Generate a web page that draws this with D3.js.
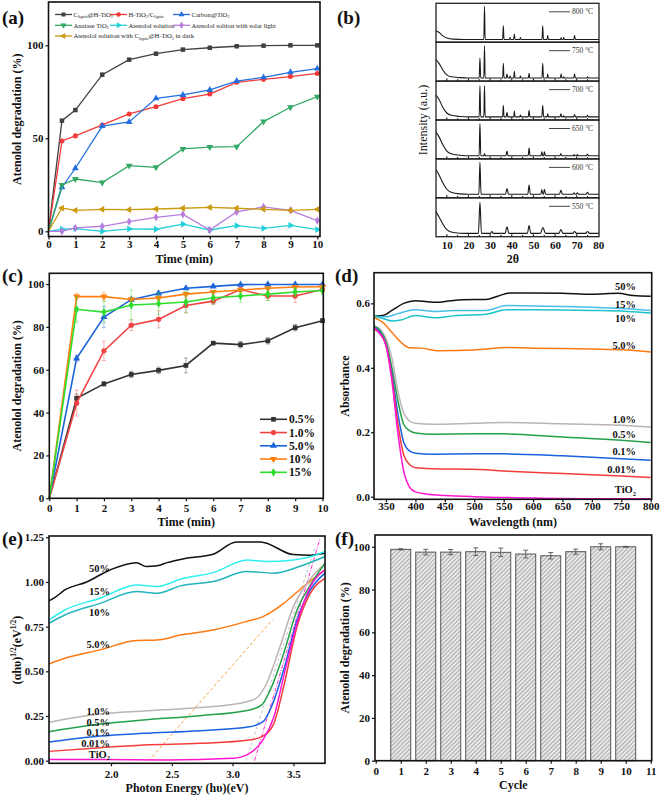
<!DOCTYPE html>
<html>
<head>
<meta charset="utf-8">
<script src="https://cdn.jsdelivr.net/npm/d3@7"></script>
<style>
  body { margin: 0; background: #fff; }
  text { font-family: "Liberation Serif", "Times New Roman", serif; }
  .tick text { font-weight: bold; font-size: 11px; fill: #111; }
  .tick line { stroke: #111; stroke-width: 1.2; }
  .ttl { font-weight: bold; font-size: 12px; fill: #111; }
  .plab { font-weight: bold; font-size: 19px; fill: #111; }
</style>
</head>
<body>
<div id="chart"></div>
<script>
/***********************************************************************/
// (a) degradation over time, 7 systems
const timeA = [0, 0.5, 1, 2, 3, 4, 5, 6, 7, 8, 9, 10];
const aLignin   = [0, 59.5, 65.2, 84.2, 92.3, 95.5, 97.7, 98.7, 99.5, 99.8, 100, 100];
const aHTiO2    = [0, 48.6, 51.3, 57.2, 63.1, 67.0, 71.3, 73.8, 80.1, 81.7, 83.2, 84.9];
const aCarbon   = [0, 23.7, 33.9, 56.6, 58.8, 71.5, 73.3, 76.0, 80.8, 82.8, 85.5, 87.5];
const aAnatase  = [0, 24.9, 28.1, 26.2, 35.3, 34.4, 44.3, 45.3, 45.5, 59.0, 66.7, 72.4];
const aSolution = [0, 1.1, 1.4, 0, 1.3, 1.1, 3.8, 0.7, 3.0, 1.6, 3.2, 0.9];
const aSolar    = [0, 0, 1.8, 2.7, 5.2, 7.5, 9.1, 0.7, 10.4, 13.1, 11.3, 5.7];
const aDark     = [0, 12.5, 11.3, 11.8, 11.6, 12.0, 12.4, 12.9, 12.4, 11.8, 11.3, 11.8];
const aErr      = [0, 1, 1, 1.5, 1, 1, 1.2, 1, 1, 1, 1, 1];

// (b) XRD, one pattern per calcination temperature (levels are fractions of a strip)
const xrdTemps = ['800 °C', '750 °C', '700 °C', '650 °C', '600 °C', '550 °C'];
const xrdBg = [
  [[5, 0.29], [6.5, 0.25], [8, 0.17], [10, 0.11], [13, 0.08], [18, 0.07]],
  [[5, 0.55], [6.5, 0.45], [8, 0.30], [10, 0.16], [12, 0.11], [16, 0.09], [20, 0.08]],
  [[5, 0.64], [6.5, 0.52], [8, 0.34], [10, 0.18], [12, 0.12], [16, 0.09], [20, 0.08]],
  [[5, 0.69], [6.5, 0.56], [8, 0.38], [10, 0.20], [12, 0.13], [16, 0.095], [20, 0.08]],
  [[5, 0.72], [6.5, 0.58], [8, 0.40], [10, 0.22], [12, 0.14], [16, 0.10], [20, 0.09]],
  [[5, 0.64], [6.5, 0.50], [8, 0.34], [10, 0.18], [12, 0.12], [16, 0.09], [20, 0.085]]
];
// [2θ, height above baseline, half width]
const xrdPeaks = [
  [[27.4, 0.85, 0.3], [36.1, 0.36, 0.3], [39.2, 0.05, 0.3], [41.2, 0.14, 0.3], [44, 0.05, 0.3],
   [54.3, 0.36, 0.3], [56.6, 0.1, 0.3], [62.8, 0.04, 0.3], [64, 0.05, 0.3], [69, 0.1, 0.35]],
  [[25.3, 0.52, 0.35], [27.4, 0.82, 0.3], [36.1, 0.38, 0.3], [37.8, 0.1, 0.35], [39.2, 0.05, 0.3],
   [41.2, 0.17, 0.3], [44, 0.05, 0.3], [48, 0.12, 0.35], [54.3, 0.38, 0.35], [56.6, 0.1, 0.3],
   [62.8, 0.1, 0.35], [64, 0.03, 0.3], [69, 0.1, 0.35], [75, 0.03, 0.4]],
  [[25.3, 0.8, 0.35], [27.4, 0.8, 0.3], [36.1, 0.3, 0.3], [37.8, 0.12, 0.4], [41.2, 0.15, 0.3],
   [44, 0.05, 0.3], [48, 0.17, 0.4], [54.3, 0.3, 0.4], [56.6, 0.08, 0.3], [62.7, 0.08, 0.4],
   [64, 0.03, 0.3], [69, 0.06, 0.4], [75, 0.04, 0.4]],
  [[25.3, 0.83, 0.4], [27.4, 0.06, 0.3], [37.8, 0.12, 0.5], [48, 0.2, 0.45], [53.9, 0.1, 0.4],
   [55.1, 0.1, 0.4], [62.7, 0.06, 0.5], [68.8, 0.03, 0.4], [70.3, 0.03, 0.4], [75, 0.04, 0.5]],
  [[25.3, 0.82, 0.5], [37.8, 0.15, 0.7], [48, 0.24, 0.6], [53.9, 0.12, 0.5], [55.1, 0.13, 0.5],
   [62.7, 0.1, 0.7], [68.8, 0.04, 0.5], [70.3, 0.04, 0.5], [75, 0.05, 0.6]],
  [[25.3, 0.8, 0.7], [30.8, 0.05, 0.7], [37.8, 0.17, 0.9], [48, 0.2, 0.8], [54.4, 0.15, 1.2],
   [62.7, 0.1, 0.9], [69, 0.05, 0.9], [75, 0.05, 0.9]]
];
const xrdTicks = [10, 20, 30, 40, 50, 60, 70, 80];

// (c) loading series
const timeC = [0, 1, 2, 3, 4, 5, 6, 7, 8, 9, 10];
const cLabels = ['0.5%', '1.0%', '5.0%', '10%', '15%'];
const c05  = [0, 46.7, 53.4, 57.8, 59.7, 62.0, 72.4, 71.7, 73.5, 79.6, 82.9];
const c10  = [0, 44.4, 68.8, 80.8, 83.5, 90.0, 92.0, 97.4, 94.4, 94.4, 97.4];
const c50  = [0, 65.3, 84.6, 92.7, 95.6, 98.0, 98.9, 99.7, 99.8, 99.8, 99.8];
const c100 = [0, 94.1, 94.1, 92.8, 93.5, 95.3, 96.3, 97.2, 98.0, 98.6, 98.7];
const c150 = [0, 88.2, 86.9, 90.2, 90.8, 91.6, 93.6, 94.4, 95.3, 96.3, 97.0];
const c05Err  = [0, 2, 1, 1.5, 1.5, 3.5, 0.5, 1.5, 1.5, 1.5, 1];
const c10Err  = [0, 6, 4.5, 2.5, 4, 3.5, 1.5, 1, 2, 3, 1];
const c50Err  = [0, 1.5, 5, 1, 0.5, 0.5, 0.5, 0.3, 0.3, 0.3, 0.3];
const c100Err = [0, 1.5, 2, 1, 1, 0.8, 0.8, 0.5, 0.5, 0.4, 0.3];
const c150Err = [0, 6, 5, 7, 5, 5, 3, 3, 3, 2, 2];

// (d) UV-vis absorbance, [wavelength nm, absorbance]
const dLabels = ['50%', '15%', '10%', '5.0%', '1.0%', '0.5%', '0.1%', '0.01%', 'TiO2'];
const d50  = [[330,0.56],[345,0.562],[360,0.578],[380,0.6],[400,0.608],[420,0.605],[435,0.603],[460,0.608],[480,0.611],[520,0.612],[540,0.622],[560,0.632],[600,0.632],[650,0.631],[700,0.628],[745,0.631],[770,0.624],[800,0.622]];
const d15  = [[330,0.56],[350,0.558],[370,0.568],[390,0.578],[400,0.58],[430,0.575],[470,0.578],[520,0.578],[555,0.593],[600,0.592],[700,0.588],[760,0.583],[800,0.578]];
const d10  = [[330,0.56],[345,0.553],[360,0.545],[375,0.548],[400,0.562],[435,0.555],[470,0.562],[520,0.566],[555,0.58],[600,0.58],[700,0.578],[760,0.575],[800,0.57]];
const d5   = [[330,0.556],[345,0.54],[360,0.51],[375,0.48],[390,0.462],[410,0.461],[440,0.453],[500,0.455],[555,0.463],[600,0.461],[700,0.458],[760,0.455],[800,0.449]];
const d1   = [[330,0.53],[340,0.52],[350,0.49],[360,0.43],[370,0.33],[380,0.26],[390,0.235],[400,0.228],[430,0.225],[500,0.228],[550,0.23],[650,0.226],[750,0.222],[800,0.216]];
const d05  = [[330,0.53],[340,0.515],[350,0.48],[360,0.4],[370,0.3],[380,0.225],[390,0.205],[400,0.198],[430,0.194],[500,0.195],[550,0.195],[650,0.185],[750,0.175],[800,0.168]];
const d01  = [[330,0.525],[340,0.51],[350,0.47],[360,0.38],[370,0.26],[380,0.17],[390,0.142],[400,0.135],[430,0.132],[500,0.133],[550,0.133],[650,0.127],[750,0.118],[800,0.113]];
const d001 = [[330,0.52],[340,0.505],[350,0.47],[360,0.37],[370,0.23],[380,0.13],[390,0.1],[400,0.09],[430,0.087],[500,0.085],[550,0.08],[650,0.072],[750,0.064],[800,0.06]];
const dTiO2 = [[330,0.525],[340,0.505],[350,0.47],[360,0.36],[370,0.2],[380,0.08],[390,0.03],[400,0.015],[420,0.008],[450,0.004],[500,0.0],[600,-0.004],[700,-0.006],[800,-0.006]];

// (e) Tauc plot, [photon energy eV, (αhυ)^1/2]
const e50  = [[1.49,0.894],[1.54,0.914],[1.62,0.955],[1.8,1.0],[1.99,1.067],[2.21,1.108],[2.29,1.086],[2.38,1.09],[2.46,1.108],[2.6,1.13],[2.84,1.155],[3.03,1.224],[3.23,1.224],[3.5,1.153],[3.64,1.15],[3.76,1.16]];
const e15  = [[1.49,0.787],[1.62,0.843],[1.91,0.909],[2.21,0.983],[2.38,0.974],[2.57,1.015],[2.84,1.052],[3.12,1.123],[3.28,1.114],[3.5,1.123],[3.66,1.145],[3.76,1.17]];
const e10  = [[1.49,0.769],[1.62,0.815],[1.91,0.88],[2.21,0.946],[2.38,0.937],[2.57,0.978],[2.84,1.002],[3.12,1.058],[3.34,1.049],[3.55,1.086],[3.76,1.142]];
const e5   = [[1.49,0.541],[1.62,0.573],[1.91,0.62],[2.21,0.672],[2.38,0.675],[2.57,0.703],[2.84,0.731],[3.12,0.78],[3.25,0.806],[3.42,0.88],[3.55,0.955],[3.76,1.067]];
const e1   = [[1.49,0.215],[1.91,0.261],[2.27,0.278],[2.73,0.297],[3.12,0.33],[3.21,0.358],[3.28,0.433],[3.39,0.638],[3.5,0.862],[3.61,0.99],[3.76,1.104]];
const e05  = [[1.49,0.162],[1.91,0.205],[2.27,0.228],[2.73,0.252],[3.14,0.284],[3.24,0.312],[3.31,0.396],[3.42,0.6],[3.53,0.843],[3.64,0.983],[3.76,1.104]];
const e01  = [[1.49,0.104],[1.91,0.138],[2.27,0.153],[2.73,0.168],[3.14,0.19],[3.25,0.218],[3.32,0.302],[3.42,0.507],[3.53,0.787],[3.64,0.955],[3.76,1.049]];
const e001 = [[1.49,0.052],[1.91,0.073],[2.27,0.088],[2.73,0.097],[3.14,0.116],[3.25,0.138],[3.34,0.209],[3.42,0.414],[3.53,0.75],[3.64,0.937],[3.76,1.02]];
const eTiO2 = [[1.49,0.007],[1.91,0.007],[2.46,0.004],[3.0,0.013],[3.14,0.041],[3.25,0.116],[3.34,0.246],[3.42,0.47],[3.53,0.769],[3.64,0.974],[3.76,1.067]];
// band-gap tangents (5.0%, 1.0%, TiO2)
const eTangents = [[[2.31, 0], [3.33, 0.79]], [[3.11, 0], [3.68, 1.2]], [[3.18, 0], [3.72, 1.245]]];

// (f) recycling
const cycles = [1, 2, 3, 4, 5, 6, 7, 8, 9, 10];
const fDeg = [98.8, 97.5, 97.5, 97.7, 97.4, 96.6, 95.8, 97.7, 100, 100];
const fErr = [0.3, 1.3, 1.2, 1.8, 2.0, 1.8, 1.5, 1.2, 1.4, 0.2];
/***********************************************************************/

const svg = d3.select('#chart').append('svg')
  .attr('width', 662)
  .attr('height', 796);

//pattern for hatched bars
svg.append('defs').append('pattern')
  .attr('id', 'hatch')
  .attr('patternUnits', 'userSpaceOnUse')
  .attr('width', 3).attr('height', 3)
  .attr('patternTransform', 'rotate(45)')
  .call(p => {
    p.append('rect').attr('width', 3).attr('height', 3).attr('fill', '#e8e8e8');
    p.append('line').attr('x1', 0).attr('y1', 0).attr('x2', 0).attr('y2', 3)
      .attr('stroke', '#777').attr('stroke-width', 1.1);
  });

//write text made of plain/sub/sup pieces
function rich(t, parts, fs) {
  parts.forEach(p => {
    const s = t.append('tspan').text(p[0]);
    if (p[1] === 'sub') s.attr('font-size', fs * 0.62).attr('dy', fs * 0.25);
    else if (p[1] === 'sup') s.attr('font-size', fs * 0.62).attr('dy', -fs * 0.38);
    else if (p[1] === 'back') s.attr('dy', -fs * 0.25);
    else if (p[1] === 'down') s.attr('dy', fs * 0.38);
  });
  return t;
}

//set up a framed panel with axes
function panel(o) {
  const x = d3.scaleLinear().domain(o.xd).range([o.l, o.r]);
  const y = d3.scaleLinear().domain(o.yd).range([o.b, o.t]);
  const g = svg.append('g');
  if (o.xt) {
    g.append('g').attr('transform', `translate(0,${o.b})`)
      .call(d3.axisBottom(x).tickValues(o.xt).tickSize(3).tickPadding(o.xp === undefined ? 3 : o.xp).tickFormat(o.xf || d3.format('d')))
      .call(s => s.select('.domain').remove());
  }
  if (o.yt) {
    g.append('g').attr('transform', `translate(${o.l},0)`)
      .call(d3.axisLeft(y).tickValues(o.yt).tickSize(3).tickPadding(o.yp || 2).tickFormat(o.yf || d3.format('d')))
      .call(s => s.select('.domain').remove());
  }
  const plot = g.append('g');
  g.append('rect').attr('x', o.l).attr('y', o.t)
    .attr('width', o.r - o.l).attr('height', o.b - o.t)
    .attr('fill', 'none').attr('stroke', '#111').attr('stroke-width', 1.6);
  if (o.xTitle) g.append('text').attr('class', 'ttl').attr('text-anchor', 'middle')
    .attr('x', (o.l + o.r) / 2).attr('y', o.xTy).text(o.xTitle);
  if (o.yTitle) g.append('text').attr('class', 'ttl').attr('text-anchor', 'middle')
    .attr('transform', `translate(${o.yTx},${(o.t + o.b) / 2}) rotate(-90)`).text(o.yTitle);
  g.append('text').attr('class', 'plab').attr('x', o.px).attr('y', o.py).text(o.plab);
  return { x, y, plot, g };
}

function drawMarker(sel, type, rot, size, color) {
  sel.append('path')
    .attr('d', d3.symbol().type(type).size(size))
    .attr('transform', d => `translate(${d[0]},${d[1]}) rotate(${rot})`)
    .attr('fill', color);
}

/***********************************************************************/
// panel (a)
const pa = panel({ l: 48.5, r: 320, t: 2, b: 236.5, xd: [0, 10.1], yd: [-2.8, 123.3],
  xt: d3.range(0, 11), yt: [0, 50, 100], xp: 1,
  xTitle: 'Time (min)', xTy: 262.5, yTitle: 'Atenolol degradation (%)', yTx: 21,
  plab: '(a)', px: 2, py: 24 });

const aSeries = [
  { v: aLignin,   c: '#404040', m: d3.symbolSquare,   rot: 0,
    name: [['C'], ['lignin', 'sub'], ['@H-TiO', 'back'], ['2', 'sub'], ['', 'back']] },
  { v: aHTiO2,    c: '#f23a3a', m: d3.symbolCircle,   rot: 0,
    name: [['H-TiO'], ['2', 'sub'], ['/C', 'back'], ['lignin', 'sub']] },
  { v: aCarbon,   c: '#2470e0', m: d3.symbolTriangle, rot: 0,
    name: [['Carbon@TiO'], ['2', 'sub']] },
  { v: aAnatase,  c: '#33a865', m: d3.symbolTriangle, rot: 180,
    name: [['Anatase TiO'], ['2', 'sub']] },
  { v: aSolution, c: '#22d0d8', m: d3.symbolTriangle, rot: 90,
    name: [['Atenolol solution']] },
  { v: aSolar,    c: '#b77ddc', m: d3.symbolDiamond,  rot: 0,
    name: [['Atenolol soltion with solar light']] },
  { v: aDark,     c: '#cc9a10', m: d3.symbolTriangle, rot: -90,
    name: [['Atenolol solution with C'], ['lignin', 'sub'], ['@H-TiO', 'back'], ['2', 'sub'], [' in dark', 'back']] }
];
const aLegPos = [[55, 14.5], [110, 14.5], [173, 14.5], [55, 25.3], [110, 25.3], [173, 25.3], [55, 36]];

aSeries.forEach((s, i) => {
  const pts = timeA.map((t, j) => [pa.x(t), pa.y(s.v[j])]);
  pa.plot.append('g').selectAll('line').data(timeA.slice(1)).enter().append('line')
    .attr('x1', t => pa.x(t)).attr('x2', t => pa.x(t))
    .attr('y1', (t, j) => pa.y(s.v[j + 1] - aErr[j + 1]))
    .attr('y2', (t, j) => pa.y(s.v[j + 1] + aErr[j + 1]))
    .attr('stroke', s.c).attr('stroke-opacity', 0.5).attr('stroke-width', 0.8);
  pa.plot.append('path').attr('d', d3.line()(pts))
    .attr('fill', 'none').attr('stroke', s.c).attr('stroke-width', 1.3);
  pa.plot.append('g').selectAll('path').data(pts.slice(1)).enter()
    .call(sel => drawMarker(sel, s.m, s.rot, 20, s.c));
  // legend entry
  const lp = aLegPos[i];
  pa.g.append('line').attr('x1', lp[0]).attr('x2', lp[0] + 17).attr('y1', lp[1]).attr('y2', lp[1])
    .attr('stroke', s.c).attr('stroke-width', 1.3);
  pa.g.append('g').selectAll('path').data([[lp[0] + 8.5, lp[1]]]).enter()
    .call(sel => drawMarker(sel, s.m, s.rot, 16, s.c));
  rich(pa.g.append('text').attr('x', lp[0] + 18.5).attr('y', lp[1] + 2.3)
    .attr('font-size', 6.6).attr('fill', '#222'), s.name, 6.6);
});

/***********************************************************************/
// panel (b): six stacked XRD strips
const bL = 436, bR = 599, bT = 3.3, bB = 236.7;
const bH = (bB - bT) / xrdTemps.length;
const bx = d3.scaleLinear().domain([5, 80.3]).range([bL, bR]);
const gb = svg.append('g');
xrdTemps.forEach((temp, i) => {
  const top = bT + i * bH;
  const by = d3.scaleLinear().domain([0, 1]).range([top + bH, top]);
  const base = xrdBg[i][xrdBg[i].length - 1][1];
  let pts = xrdBg[i].slice();
  xrdPeaks[i].forEach(p => {
    pts.push([p[0] - p[2], base], [p[0], base + p[1]], [p[0] + p[2], base]);
  });
  pts.push([80.3, base]);
  pts.sort((a, b) => a[0] - b[0]);
  gb.append('path')
    .attr('d', d3.line().x(d => bx(d[0])).y(d => by(d[1])).curve(d3.curveMonotoneX)(pts))
    .attr('fill', 'none').attr('stroke', '#1a1a1a').attr('stroke-width', 1.1);
  if (i > 0) {
    gb.append('g').selectAll('line').data(d3.range(10, 80, 5)).enter().append('line')
      .attr('x1', d => bx(d)).attr('x2', d => bx(d))
      .attr('y1', top + bH).attr('y2', d => top + bH - (d % 10 === 0 ? 2.5 : 1.8))
      .attr('stroke', '#111').attr('stroke-width', 1.1);
  }
  gb.append('rect').attr('x', bL).attr('y', top).attr('width', bR - bL).attr('height', bH)
    .attr('fill', 'none').attr('stroke', '#222').attr('stroke-width', 1.3);
  gb.append('line').attr('x1', 549).attr('x2', 570).attr('y1', top + 8.5).attr('y2', top + 8.5)
    .attr('stroke', '#444').attr('stroke-width', 1);
  gb.append('text').attr('x', 572).attr('y', top + 11).attr('font-size', 7.5).attr('fill', '#333').text(temp);
});
gb.append('g').attr('transform', `translate(0,${bB})`)
  .call(d3.axisBottom(bx).tickValues(xrdTicks).tickSize(0).tickPadding(5))
  .call(s => s.select('.domain').remove());
gb.append('text').attr('class', 'ttl').attr('text-anchor', 'middle').attr('x', 513).attr('y', 263).text('2θ');
gb.append('text').attr('class', 'ttl').attr('text-anchor', 'middle').attr('font-weight', 'normal')
  .attr('transform', `translate(427,120) rotate(-90)`).style('font-weight', 'normal').text('Intensity (a.u.)');
gb.append('text').attr('class', 'plab').attr('x', 337).attr('y', 24).text('(b)');

/***********************************************************************/
// panel (c)
const pc = panel({ l: 49.3, r: 323.3, t: 273.3, b: 498.3, xd: [0, 10.03], yd: [0, 105],
  xt: d3.range(0, 11), yt: [0, 20, 40, 60, 80, 100], xp: 3,
  xTitle: 'Time (min)', xTy: 526, yTitle: 'Atenolol degradation (%)', yTx: 21,
  plab: '(c)', px: 2, py: 282 });
const cSeries = [
  { v: c05,  e: c05Err,  c: '#333333', m: d3.symbolSquare,   rot: 0 },
  { v: c10,  e: c10Err,  c: '#f04545', m: d3.symbolCircle,   rot: 0 },
  { v: c50,  e: c50Err,  c: '#1c64d8', m: d3.symbolTriangle, rot: 0 },
  { v: c100, e: c100Err, c: '#ff8010', m: d3.symbolTriangle, rot: 180 },
  { v: c150, e: c150Err, c: '#2edc2e', m: d3.symbolDiamond,  rot: 0 }
];
cSeries.forEach((s, i) => {
  const pts = timeC.map((t, j) => [pc.x(t), pc.y(s.v[j])]);
  pc.plot.append('g').selectAll('g').data(timeC.slice(1)).enter().append('path')
    .attr('d', (t, j) => {
      const x0 = pc.x(t), lo = pc.y(s.v[j + 1] - s.e[j + 1]), hi = pc.y(s.v[j + 1] + s.e[j + 1]);
      return `M${x0},${lo}V${hi}M${x0 - 2},${lo}H${x0 + 2}M${x0 - 2},${hi}H${x0 + 2}`;
    })
    .attr('stroke', s.c).attr('stroke-opacity', 0.45).attr('stroke-width', 0.9).attr('fill', 'none');
  pc.plot.append('path').attr('d', d3.line()(pts))
    .attr('fill', 'none').attr('stroke', s.c).attr('stroke-width', 1.6);
  pc.plot.append('g').selectAll('path').data(pts.slice(1)).enter()
    .call(sel => drawMarker(sel, s.m, s.rot, 22, s.c));
  const ly = 419.3 + i * 13.25;
  pc.g.append('line').attr('x1', 260).attr('x2', 287).attr('y1', ly).attr('y2', ly)
    .attr('stroke', s.c).attr('stroke-width', 1.6);
  pc.g.append('g').selectAll('path').data([[273.5, ly]]).enter()
    .call(sel => drawMarker(sel, s.m, s.rot, 22, s.c));
  pc.g.append('text').attr('x', 289).attr('y', ly + 4).attr('font-size', 11.5)
    .attr('font-weight', 'bold').attr('fill', '#111').text(cLabels[i]);
});

/***********************************************************************/
// panel (d)
const pd = panel({ l: 374, r: 651.7, t: 272.7, b: 499.3, xd: [329.6, 801.7], yd: [-0.008, 0.695],
  xt: d3.range(350, 801, 50), yt: [0, 0.2, 0.4, 0.6], yf: d3.format('.1f'), xp: 0, yp: 1,
  xTitle: 'Wavelength (nm)', xTy: 525.5, yTitle: 'Absorbance', yTx: 349,
  plab: '(d)', px: 335, py: 282 });
const dSeries = [
  { v: d50, c: '#111111', ly: 290 }, { v: d15, c: '#45bfe8', ly: 307.7 },
  { v: d10, c: '#1fc2c8', ly: 322.3 }, { v: d5, c: '#ff7a12', ly: 349 },
  { v: d1, c: '#bdb3b3', ly: 423.3 }, { v: d05, c: '#25a04a', ly: 438.3 },
  { v: d01, c: '#1a62e0', ly: 455 }, { v: d001, c: '#f23c3c', ly: 472.7 },
  { v: dTiO2, c: '#ff14d2', ly: 493.3 }
];
const dLine = d3.line().x(d => pd.x(d[0])).y(d => pd.y(d[1])).curve(d3.curveMonotoneX);
dSeries.forEach((s, i) => {
  pd.plot.append('path').attr('d', dLine(s.v))
    .attr('fill', 'none').attr('stroke', s.c).attr('stroke-width', 1.5);
  const t = pd.g.append('text').attr('x', 636).attr('y', s.ly).attr('text-anchor', 'end')
    .attr('font-size', 10.5).attr('font-weight', 'bold').attr('fill', '#111');
  if (dLabels[i] === 'TiO2') rich(t, [['TiO'], ['2', 'sub']], 10.5);
  else t.text(dLabels[i]);
});

/***********************************************************************/
// panel (e)
const pe = panel({ l: 49, r: 325, t: 536, b: 763.3, xd: [1.49, 3.76], yd: [-0.0146, 1.257],
  xt: [2.0, 2.5, 3.0, 3.5], xf: d3.format('.1f'), yt: [0, 0.25, 0.5, 0.75, 1.0, 1.25], yf: d3.format('.2f'), xp: 4,
  xTitle: 'Photon Energy (hυ)(eV)', xTy: 792, yTx: 21,
  plab: '(e)', px: 2, py: 545 });
rich(pe.g.append('text').attr('class', 'ttl').attr('text-anchor', 'middle')
  .attr('transform', `translate(21,650) rotate(-90)`),
  [['(αhυ)'], ['1/2', 'sup'], ['(eV', 'down'], ['1/2', 'sup'], [')', 'down']], 12);
const eSeries = [
  { v: e50, c: '#111111', lab: [['50%']], ly: 571.7 },
  { v: e15, c: '#2eeef0', lab: [['15%']], ly: 595 },
  { v: e10, c: '#22b4bc', lab: [['10%']], ly: 616 },
  { v: e5, c: '#ff7a12', lab: [['5.0%']], ly: 648 },
  { v: e1, c: '#bdb3b3', lab: [['1.0%']], ly: 715 },
  { v: e05, c: '#25a04a', lab: [['0.5%']], ly: 725.5 },
  { v: e01, c: '#1a62e0', lab: [['0.1%']], ly: 735.5 },
  { v: e001, c: '#f23c3c', lab: [['0.01%']], ly: 746.5 },
  { v: eTiO2, c: '#ff14d2', lab: [['TiO'], ['2', 'sub']], ly: 757.5 }
];
const tanStyle = [
  { c: '#f5a040', dash: '3,2.5' },
  { c: '#c8c0c8', dash: '3,2.5' },
  { c: '#ff30c8', dash: '4,1.5,1,1.5' }
];
eTangents.forEach((seg, i) => {
  pe.plot.append('path').attr('d', d3.line().x(d => pe.x(d[0])).y(d => pe.y(d[1]))(seg))
    .attr('fill', 'none').attr('stroke', tanStyle[i].c).attr('stroke-width', 1)
    .attr('stroke-dasharray', tanStyle[i].dash);
});
const eLine = d3.line().x(d => pe.x(d[0])).y(d => pe.y(d[1])).curve(d3.curveMonotoneX);
eSeries.forEach(s => {
  pe.plot.append('path').attr('d', eLine(s.v))
    .attr('fill', 'none').attr('stroke', s.c).attr('stroke-width', 1.5);
  rich(pe.g.append('text').attr('x', 110).attr('y', s.ly).attr('text-anchor', 'end')
    .attr('font-size', 10.5).attr('font-weight', 'bold').attr('fill', '#111'), s.lab, 10.5);
});

/***********************************************************************/
// panel (f)
const pf = panel({ l: 375, r: 651.7, t: 535, b: 760.7, xd: [-0.03, 11.04], yd: [0, 105.5],
  xt: d3.range(0, 12), yt: [0, 20, 40, 60, 80, 100], xp: 4,
  xTitle: 'Cycle', xTy: 789, yTitle: 'Atenolol degradation (%)', yTx: 349,
  plab: '(f)', px: 335, py: 545 });
const bw = pf.x(0.8) - pf.x(0);
pf.plot.selectAll('rect').data(cycles).enter().append('rect')
  .attr('x', (c) => pf.x(c) - bw / 2)
  .attr('y', (c, i) => pf.y(fDeg[i]))
  .attr('width', bw)
  .attr('height', (c, i) => pf.y(0) - pf.y(fDeg[i]))
  .attr('fill', 'url(#hatch)').attr('stroke', '#555').attr('stroke-width', 1);
pf.plot.append('g').selectAll('path').data(cycles).enter().append('path')
  .attr('d', (c, i) => {
    const x0 = pf.x(c), lo = pf.y(fDeg[i] - fErr[i]), hi = pf.y(fDeg[i] + fErr[i]);
    return `M${x0},${lo}V${hi}M${x0 - 2.5},${lo}H${x0 + 2.5}M${x0 - 2.5},${hi}H${x0 + 2.5}`;
  })
  .attr('stroke', '#555').attr('stroke-width', 0.9).attr('fill', 'none');
</script>
</body>
</html>
